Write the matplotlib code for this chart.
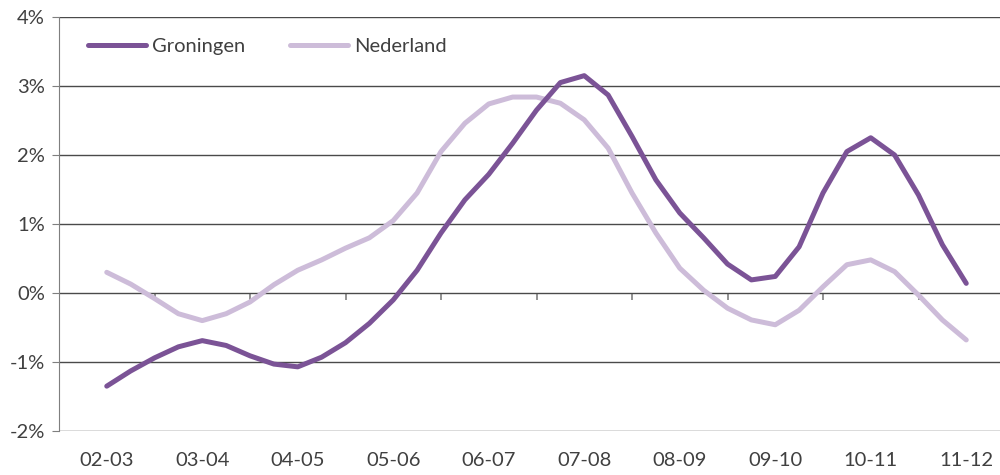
import matplotlib
matplotlib.use("Agg")
import matplotlib.pyplot as plt
import numpy as np

# jaarlabels, elk jaar 4 kwartalen
years = ["02-03", "03-04", "04-05", "05-06", "06-07",
         "07-08", "08-09", "09-10", "10-11", "11-12"]

groningen = [-1.35, -1.13, -0.94, -0.78, -0.69, -0.76, -0.91, -1.03, -1.07,
             -0.93, -0.72, -0.44, -0.10, 0.33, 0.87, 1.35, 1.72, 2.17, 2.65,
             3.05, 3.15, 2.87, 2.27, 1.64, 1.16, 0.80, 0.42, 0.19, 0.24,
             0.67, 1.45, 2.05, 2.25, 2.00, 1.42, 0.70, 0.14]

nederland = [0.30, 0.13, -0.08, -0.30, -0.40, -0.30, -0.13, 0.12, 0.33,
             0.48, 0.65, 0.80, 1.05, 1.45, 2.05, 2.46, 2.74, 2.84, 2.84,
             2.75, 2.51, 2.10, 1.45, 0.87, 0.36, 0.04, -0.22, -0.39, -0.46,
             -0.25, 0.09, 0.41, 0.48, 0.31, -0.03, -0.39, -0.68]

dark = "#7B5396"
light = "#CDBCD9"
txt = "#404040"

plt.rcParams["font.family"] = ["Lato", "DejaVu Sans"]

fig = plt.figure(figsize=(10, 4.75), dpi=100)
ax = fig.add_axes([0.059, 0.0926, 0.955, 0.8716])

x = np.arange(len(groningen))
ax.plot(x, groningen, color=dark, lw=3.6, solid_capstyle="round", label="Groningen", zorder=3)
ax.plot(x, nederland, color=light, lw=3.6, solid_capstyle="round", label="Nederland", zorder=2)

ax.set_ylim(-2, 4)
ax.set_xlim(-2, 38)
ax.set_yticks(range(-2, 5))
ax.set_yticklabels([f"{v}%" for v in range(-2, 5)])
ax.yaxis.grid(True, color="#4a4a4a", lw=1.0)
ax.set_axisbelow(True)

for s in ["top", "right", "bottom"]:
    ax.spines[s].set_visible(False)
ax.spines["left"].set_color("#7f7f7f")

ax.tick_params(axis="y", length=5, color="#7f7f7f", labelsize=14.5, labelcolor=txt, pad=5)
ax.set_xticks(np.arange(len(years)) * 4)
ax.set_xticklabels(years)
ax.tick_params(axis="x", length=0, labelsize=14.5, labelcolor=txt, pad=15)

# tick marks on the 0%-line between the years
sec = ax.secondary_xaxis(1 / 3)
sec.set_xticks(np.arange(len(years) - 1) * 4 + 2)
sec.set_xticklabels([])
sec.tick_params(length=5, width=1.2, color="#7f7f7f")
sec.spines["bottom"].set_visible(False)

ax.legend(loc="center left", bbox_to_anchor=(0.03, 0.928), ncol=2, frameon=False,
          fontsize=14.5, handlelength=2.9, handletextpad=0.3, columnspacing=2.2,
          borderpad=0, borderaxespad=0, labelcolor=txt)

fig.savefig("out.png", dpi=100)
